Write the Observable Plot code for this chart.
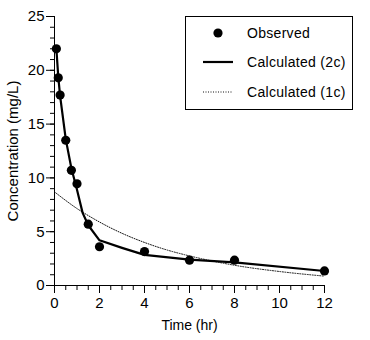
<!DOCTYPE html>
<html>
<head>
<meta charset="utf-8">
<script src="https://cdn.jsdelivr.net/npm/d3@7"></script>
<script src="https://cdn.jsdelivr.net/npm/@observablehq/plot@0.6"></script>
<style>
  html, body { margin: 0; padding: 0; background: #fff; }
  #wrap { position: relative; width: 370px; height: 340px; font-family: "Liberation Sans", Arial, sans-serif; }
  #legend { position: absolute; left: 185px; top: 16px; width: 166px; height: 92px; border: 1px solid #000; background: #fff; font-size: 14px; letter-spacing: 0.3px; }
  .row { position: absolute; left: 0; height: 20px; display: flex; align-items: center; }
  .row svg { width: 46px; height: 20px; margin-left: 9px; }
  .row span { margin-left: 6px; }
</style>
</head>
<body>
<div id="wrap"></div>
<script>
// Observed data
const obsTime = [0.083, 0.167, 0.25, 0.5, 0.75, 1, 1.5, 2, 4, 6, 8, 12];
const obsConc = [22.0, 19.3, 17.7, 13.5, 10.7, 9.45, 5.7, 3.6, 3.15, 2.35, 2.35, 1.35];
// Calculated two-compartment curve
const calc2cTime = [0.083, 0.167, 0.25, 0.5, 0.75, 1, 1.25, 1.5, 2, 3, 4, 6, 8, 12];
const calc2cConc = [22.0, 19.4, 17.6, 13.6, 10.9, 8.9, 6.75, 5.6, 4.2, 3.5, 2.85, 2.4, 2.15, 1.35];
// Calculated one-compartment curve
const calc1cTime = [0, 0.5, 1, 1.5, 2, 3, 4, 5, 6, 7, 8, 10, 12];
const calc1cConc = [8.7, 7.9, 7.15, 6.5, 5.9, 4.85, 4.0, 3.3, 2.75, 2.28, 1.88, 1.3, 0.87];
// Axis ticks and titles
const xMajor = [0, 2, 4, 6, 8, 10, 12];
const yMajor = [0, 5, 10, 15, 20, 25];
const xTitle = "Time (hr)";
const yTitle = "Concentration (mg/L)";
const legendLabels = ["Observed", "Calculated (2c)", "Calculated (1c)"];

const obs = obsTime.map((t, i) => ({t, c: obsConc[i]}));
const c2 = calc2cTime.map((t, i) => ({t, c: calc2cConc[i]}));
const c1 = calc1cTime.map((t, i) => ({t, c: calc1cConc[i]}));
const xMinor = d3.range(0, 12.01, 0.5);
const yMinor = d3.range(0, 25.01, 1);

const font = "Liberation Sans, Arial, sans-serif";
const plot = Plot.plot({
  width: 370,
  height: 340,
  marginLeft: 54,
  marginRight: 46,
  marginTop: 16,
  marginBottom: 55,
  style: {fontFamily: font, fontSize: "15px", background: "#fff", color: "#000"},
  x: {domain: [0, 12]},
  y: {domain: [0, 25]},
  marks: [
    Plot.axisY(yMinor, {tickSize: 4, text: null, label: null}),
    Plot.axisY(yMajor, {tickSize: 8, tickPadding: 2, label: null, fontSize: 15}),
    Plot.axisX(xMinor, {tickSize: 5, text: null, label: null}),
    Plot.axisX(xMajor, {tickSize: 8, tickPadding: 4, label: null, fontSize: 15}),
    Plot.text([xTitle], {frameAnchor: "bottom", dy: 40, fontSize: 14, lineAnchor: "middle", textAnchor: "middle"}),
    Plot.text([yTitle], {frameAnchor: "left", dx: -41, rotate: -90, fontSize: 15, lineAnchor: "middle", textAnchor: "middle"}),
    Plot.ruleX([0], {y1: 0, y2: 25, stroke: "#000"}),
    Plot.ruleY([0], {x1: 0, x2: 12, stroke: "#000"}),
    Plot.line(c1, {x: "t", y: "c", stroke: "#111", strokeWidth: 1, strokeDasharray: "1,1.5", curve: "monotone-x"}),
    Plot.line(c2, {x: "t", y: "c", stroke: "#000", strokeWidth: 2.2, curve: "linear"}),
    Plot.dot(obs, {x: "t", y: "c", r: 4.6, fill: "#000", stroke: "none"})
  ]
});
const wrap = document.getElementById("wrap");
wrap.appendChild(plot);

// Legend
const legend = document.createElement("div");
legend.id = "legend";
const swatches = [
  '<svg viewBox="0 0 46 20"><circle cx="23" cy="10" r="4.6" fill="#000"/></svg>',
  '<svg viewBox="0 0 46 20"><line x1="8" x2="38" y1="10" y2="10" stroke="#000" stroke-width="2.2"/></svg>',
  '<svg viewBox="0 0 46 20"><line x1="8" x2="38" y1="10" y2="10" stroke="#111" stroke-width="1" stroke-dasharray="1,1.5"/></svg>'
];
const tops = [6, 35, 65];
legendLabels.forEach((lab, i) => {
  const r = document.createElement("div");
  r.className = "row";
  r.style.top = tops[i] + "px";
  r.innerHTML = swatches[i] + "<span>" + lab + "</span>";
  legend.appendChild(r);
});
wrap.appendChild(legend);
</script>
</body>
</html>
